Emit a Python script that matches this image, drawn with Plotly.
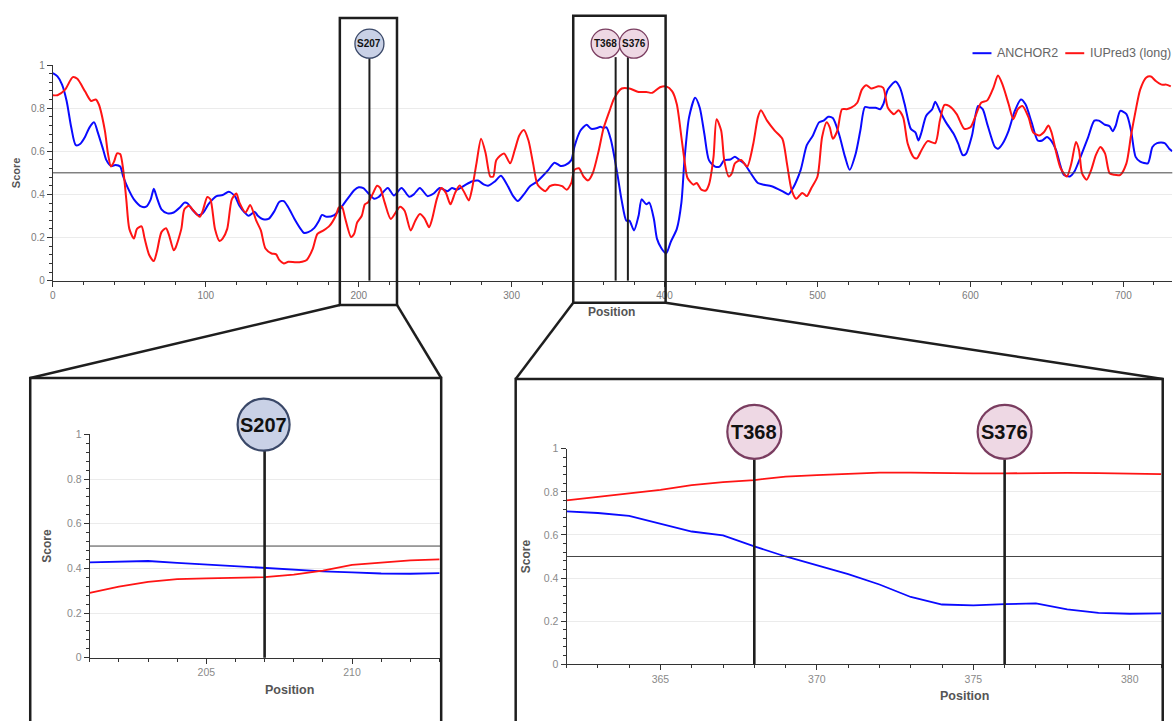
import plotly.graph_objects as go

W, H = 1174, 721
def fx(px):
    return px / W
def fy(py):
    return 1 - py / H

# ---------------- data ----------------
iupred_pos = [0, 3, 8, 13, 16, 21, 25, 28, 30, 34, 36, 38, 40, 42, 44, 46, 48, 50, 53, 55, 58, 60, 63, 66, 68, 71, 74, 76, 79, 80,
              84, 86, 89, 92, 96, 98, 101, 103, 106, 109, 111, 114, 117, 120, 122, 126, 129, 133, 136, 139, 143, 146, 148, 151, 154,
              159, 163, 166, 170, 173, 177, 181, 185, 187, 189, 191, 195, 197, 199, 202, 204, 206, 209, 212, 214, 217, 221, 227, 230,
              234, 237, 240, 243, 246, 248, 251, 254, 257, 260, 263, 266, 269, 272, 274, 277, 280, 283, 286, 288, 290, 295, 299, 302,
              305, 308, 311, 314, 317, 322, 325, 328, 333, 336, 339, 341, 344, 347, 350, 353, 357, 360, 364, 367, 372, 377, 383, 388,
              392, 397, 401, 405, 408, 411, 413, 415, 419, 421, 424, 427, 429, 432, 434, 437, 439, 442, 444, 446, 450, 454, 458, 461,
              463, 467, 472, 477, 480, 483, 486, 490, 493, 496, 500, 503, 506, 508, 510, 513, 516, 519, 522, 526, 529, 532, 535, 540,
              543, 546, 550, 553, 556, 559, 563, 565, 568, 572, 577, 580, 583, 586, 591, 596, 600, 603, 607, 611, 615, 618, 621, 625,
              628, 631, 634, 638, 641, 645, 648, 651, 653, 656, 659, 663, 666, 669, 671, 673, 676, 679, 682, 685, 688, 691, 694, 698,
              702, 705, 708, 711, 715, 718, 721, 725, 728, 731]
iupred_val = [0.86, 0.86, 0.886, 0.944, 0.936, 0.878, 0.833, 0.84, 0.818, 0.696, 0.59, 0.529, 0.552, 0.59, 0.587, 0.514, 0.377, 0.24,
              0.195, 0.24, 0.252, 0.195, 0.119, 0.091, 0.134, 0.225, 0.243, 0.21, 0.141, 0.149, 0.24, 0.331, 0.347, 0.324, 0.296,
              0.324, 0.388, 0.377, 0.24, 0.184, 0.195, 0.24, 0.377, 0.404, 0.362, 0.316, 0.351, 0.278, 0.233, 0.149, 0.126, 0.122,
              0.096, 0.08, 0.088, 0.085, 0.088, 0.096, 0.149, 0.217, 0.233, 0.255, 0.301, 0.339, 0.343, 0.293, 0.202, 0.217, 0.27,
              0.301, 0.354, 0.362, 0.40, 0.44, 0.43, 0.362, 0.286, 0.343, 0.324, 0.233, 0.278, 0.309, 0.289, 0.248, 0.286, 0.377,
              0.43, 0.407, 0.354, 0.407, 0.441, 0.41, 0.372, 0.422, 0.544, 0.658, 0.59, 0.483, 0.483, 0.559, 0.59, 0.544, 0.605,
              0.673, 0.699, 0.65, 0.544, 0.445, 0.415, 0.438, 0.445, 0.438, 0.422, 0.453, 0.514, 0.521, 0.483, 0.465, 0.498, 0.605,
              0.704, 0.787, 0.845, 0.891, 0.891, 0.875, 0.875, 0.871, 0.897, 0.901, 0.878, 0.818, 0.666, 0.559, 0.476, 0.445, 0.453,
              0.422, 0.418, 0.445, 0.574, 0.749, 0.696, 0.559, 0.483, 0.498, 0.544, 0.559, 0.529, 0.635, 0.757, 0.79, 0.742, 0.696,
              0.658, 0.544, 0.422, 0.38, 0.407, 0.392, 0.43, 0.483, 0.666, 0.734, 0.711, 0.658, 0.696, 0.795, 0.795, 0.802, 0.825,
              0.886, 0.906, 0.891, 0.901, 0.894, 0.802, 0.772, 0.79, 0.757, 0.635, 0.571, 0.567, 0.605, 0.647, 0.638, 0.742, 0.815,
              0.81, 0.772, 0.704, 0.711, 0.757, 0.825, 0.836, 0.894, 0.951, 0.909, 0.818, 0.749, 0.795, 0.81, 0.757, 0.688, 0.673,
              0.688, 0.719, 0.688, 0.597, 0.521, 0.483, 0.544, 0.643, 0.605, 0.498, 0.468, 0.514, 0.582, 0.62, 0.59, 0.498, 0.491,
              0.491, 0.544, 0.673, 0.787, 0.886, 0.942, 0.947, 0.927, 0.909, 0.909, 0.901]

anchor_pos = [0, 3, 6, 9, 12, 15, 18, 21, 24, 27, 29, 33, 35, 38, 41, 44, 46, 49, 53, 58, 61, 64, 66, 68, 71, 75, 79, 83, 86, 88, 91,
              95, 98, 102, 107, 111, 115, 119, 122, 125, 128, 132, 134, 137, 141, 145, 148, 151, 154, 158, 162, 164, 167, 171, 174,
              176, 179, 184, 187, 190, 194, 197, 200, 203, 205, 207, 210, 213, 219, 223, 228, 233, 236, 240, 245, 249, 253, 258, 261,
              264, 269, 274, 278, 282, 285, 289, 293, 297, 301, 304, 308, 312, 316, 320, 324, 328, 332, 335, 339, 341, 345, 349, 352,
              356, 358, 360, 362, 365, 369, 372, 375, 377, 380, 383, 385, 388, 390, 393, 395, 398, 401, 404, 408, 411, 413, 416, 420,
              423, 426, 429, 433, 436, 439, 443, 446, 449, 452, 457, 461, 465, 470, 477, 481, 484, 489, 493, 497, 501, 504, 507, 510,
              514, 518, 521, 525, 528, 531, 534, 538, 541, 543, 546, 551, 554, 557, 561, 564, 566, 568, 571, 575, 577, 580, 584, 589,
              592, 595, 597, 601, 605, 608, 611, 616, 618, 621, 625, 629, 633, 636, 640, 644, 647, 650, 653, 656, 659, 661, 665, 668,
              672, 677, 681, 684, 688, 691, 693, 695, 698, 702, 705, 708, 711, 716, 719, 722, 727, 730, 732]
anchor_val = [0.962, 0.947, 0.909, 0.833, 0.711, 0.628, 0.635, 0.666, 0.711, 0.734, 0.696, 0.605, 0.559, 0.532, 0.536, 0.529, 0.483,
              0.43, 0.377, 0.343, 0.343, 0.377, 0.426, 0.385, 0.331, 0.312, 0.316, 0.339, 0.362, 0.359, 0.331, 0.304, 0.313, 0.357,
              0.392, 0.397, 0.412, 0.392, 0.347, 0.319, 0.301, 0.319, 0.301, 0.286, 0.286, 0.324, 0.365, 0.369, 0.339, 0.286, 0.24,
              0.222, 0.225, 0.245, 0.278, 0.305, 0.296, 0.304, 0.324, 0.354, 0.392, 0.419, 0.433, 0.429, 0.415, 0.40, 0.38, 0.388,
              0.43, 0.395, 0.43, 0.389, 0.40, 0.43, 0.392, 0.404, 0.43, 0.415, 0.43, 0.422, 0.441, 0.46, 0.464, 0.445, 0.441, 0.46,
              0.486, 0.445, 0.392, 0.369, 0.40, 0.438, 0.456, 0.483, 0.514, 0.547, 0.532, 0.536, 0.559, 0.62, 0.696, 0.723, 0.704,
              0.708, 0.714, 0.708, 0.711, 0.65, 0.50, 0.37, 0.278, 0.278, 0.233, 0.301, 0.377, 0.354, 0.362, 0.286, 0.195, 0.149,
              0.126, 0.179, 0.24, 0.362, 0.559, 0.757, 0.848, 0.802, 0.681, 0.559, 0.529, 0.529, 0.559, 0.562, 0.574, 0.559, 0.544,
              0.491, 0.453, 0.445, 0.438, 0.415, 0.40, 0.43, 0.514, 0.628, 0.673, 0.734, 0.742, 0.76, 0.754, 0.681, 0.574, 0.514,
              0.59, 0.696, 0.805, 0.802, 0.802, 0.795, 0.818, 0.886, 0.924, 0.894, 0.818, 0.704, 0.688, 0.65, 0.688, 0.764, 0.795,
              0.83, 0.787, 0.734, 0.681, 0.635, 0.582, 0.587, 0.673, 0.81, 0.795, 0.726, 0.62, 0.612, 0.635, 0.696, 0.787, 0.84,
              0.818, 0.734, 0.65, 0.65, 0.666, 0.647, 0.605, 0.529, 0.491, 0.483, 0.506, 0.574, 0.666, 0.742, 0.742, 0.723, 0.716,
              0.693, 0.719, 0.787, 0.772, 0.696, 0.574, 0.552, 0.544, 0.62, 0.638, 0.638, 0.612, 0.60]

# zoomed windows (per residue)
zoom1_pos = list(range(201, 214))
zoom1_anchor = [0.427, 0.430, 0.433, 0.425, 0.417, 0.408, 0.400, 0.394, 0.387, 0.382, 0.377, 0.376, 0.379]
zoom1_iupred = [0.290, 0.318, 0.340, 0.352, 0.355, 0.357, 0.361, 0.372, 0.390, 0.416, 0.427, 0.436, 0.440]

zoom2_pos = list(range(362, 382))
zoom2_anchor = [0.709, 0.702, 0.689, 0.651, 0.616, 0.598, 0.547, 0.500, 0.460, 0.418, 0.370, 0.312, 0.277, 0.273, 0.279,
                0.282, 0.254, 0.238, 0.234, 0.236]
zoom2_iupred = [0.761, 0.776, 0.791, 0.809, 0.831, 0.845, 0.855, 0.871, 0.878, 0.882, 0.889, 0.889, 0.886, 0.886, 0.886,
                0.888, 0.888, 0.887, 0.884, 0.882]

threshold = 0.5
seq_length = 732
sites = ['S207', 'T368', 'S376']
site_pos = [207, 368, 376]
site_kind = ['S207', 'T', 'T']  # style group

BLUE = '#0a0aff'
RED = '#ff1414'
FONT = 'Liberation Sans'
DARK = '#1e1e1e'

STYLE = {
    'S207': dict(fill='#c9d1e6', line='#3a4868'),
    'T': dict(fill='#eed8e4', line='#7a3d60'),
}

fig = go.Figure()

# main
fig.add_trace(go.Scatter(x=anchor_pos, y=anchor_val, mode='lines', name='ANCHOR2', xaxis='x', yaxis='y',
                         line=dict(color=BLUE, width=2, shape='spline', smoothing=0.7), showlegend=False))
fig.add_trace(go.Scatter(x=iupred_pos, y=iupred_val, mode='lines', name='IUPred3 (long)', xaxis='x', yaxis='y',
                         line=dict(color=RED, width=2, shape='spline', smoothing=0.7), showlegend=False))
# inset 1
fig.add_trace(go.Scatter(x=zoom1_pos, y=zoom1_anchor, mode='lines', xaxis='x2', yaxis='y2',
                         line=dict(color=BLUE, width=1.8), showlegend=False))
fig.add_trace(go.Scatter(x=zoom1_pos, y=zoom1_iupred, mode='lines', xaxis='x2', yaxis='y2',
                         line=dict(color=RED, width=1.8), showlegend=False))
# inset 2
fig.add_trace(go.Scatter(x=zoom2_pos, y=zoom2_anchor, mode='lines', xaxis='x3', yaxis='y3',
                         line=dict(color=BLUE, width=1.8), showlegend=False))
fig.add_trace(go.Scatter(x=zoom2_pos, y=zoom2_iupred, mode='lines', xaxis='x3', yaxis='y3',
                         line=dict(color=RED, width=1.8), showlegend=False))

tickfont_main = dict(family=FONT, size=10, color='#7a7a7a')
tickfont_inset = dict(family=FONT, size=10.5, color='#8a8a8a')

def xax(domain, rng, dtick, minor, tickfont, anchor):
    return dict(domain=domain, range=rng, dtick=dtick, tick0=0, showline=True, linecolor='#333', linewidth=1,
                ticks='outside', ticklen=5, tickcolor='#333', tickfont=tickfont, showgrid=False, zeroline=False,
                minor=dict(dtick=minor, ticks='outside', ticklen=3, tickcolor='#333', showgrid=False),
                anchor=anchor, fixedrange=True)

def yax(domain, tickfont, anchor, title, tsize, standoff):
    return dict(domain=domain, range=[0, 1], dtick=0.2, tick0=0, showline=True, linecolor='#333', linewidth=1,
                ticks='outside', ticklen=5, tickcolor='#333', tickfont=tickfont, showgrid=True, gridcolor='#ebebeb',
                gridwidth=1, zeroline=False,
                minor=dict(dtick=0.04, ticks='outside', ticklen=3, tickcolor='#333', showgrid=False),
                anchor=anchor, fixedrange=True,
                title=dict(text='<b>%s</b>' % title, font=dict(family=FONT, size=tsize, color='#555'), standoff=standoff))

main_xd = [fx(50), fx(1172.3)]
main_yd = [fy(279.3), fy(60)]
in1_xd = [fx(87), fx(439.3)]
in1_yd = [fy(662.7), fy(435.7)]
in2_xd = [fx(565), fx(1162)]
in2_yd = [fy(669.3), fy(450.3)]

fig.update_layout(
    width=W, height=H, autosize=False,
    margin=dict(l=0, r=0, t=0, b=0),
    paper_bgcolor='white', plot_bgcolor='white',
    showlegend=False,
    xaxis=xax(main_xd, [0, seq_length], 100, 20, tickfont_main, 'y'),
    yaxis=yax(main_yd, tickfont_main, 'x', 'Score', 11, 8),
    xaxis2=xax(in1_xd, [201, 213.06], 5, 1, tickfont_inset, 'y2'),
    yaxis2=yax(in1_yd, tickfont_inset, 'x2', 'Score', 12, 12),
    xaxis3=xax(in2_xd, [362, 381.03], 5, 1, tickfont_inset, 'y3'),
    yaxis3=yax(in2_yd, tickfont_inset, 'x3', 'Score', 12, 10),
)

shapes = []
annotations = []

# threshold lines
for xr, yr in [('x', 'y'), ('x2', 'y2'), ('x3', 'y3')]:
    shapes.append(dict(type='line', xref=xr + ' domain', yref=yr, x0=0, x1=1, y0=threshold, y1=threshold,
                       line=dict(color='#444', width=1)))

# site markers: (xaxis ref, y-domain bottom, line top px, circle centre px, radius, font size, x offsets, line width)
panels = [
    dict(xr='x', ybot=main_yd[0], ltop=52, cy=38.3, r=14.5, fs=10, lw=2, bw=1.3,
         sites=[0, 1, 2], dx={0: 0, 1: -10, 2: 6}),
    dict(xr='x2', ybot=in1_yd[0], ltop=451, cy=425.7, r=26, fs=20, lw=2.6, bw=2.2,
         sites=[0], dx={0: -1}),
    dict(xr='x3', ybot=in2_yd[0], ltop=461, cy=433, r=27, fs=20, lw=2.6, bw=2.2,
         sites=[1, 2], dx={1: 0, 2: 0}),
]
for p in panels:
    for i in p['sites']:
        shapes.append(dict(type='line', xref=p['xr'], yref='paper', x0=site_pos[i], x1=site_pos[i],
                           y0=p['ybot'], y1=fy(p['ltop']), line=dict(color=DARK, width=p['lw'])))
    for i in p['sites']:
        st = STYLE[site_kind[i]]
        d = p['dx'][i]
        shapes.append(dict(type='circle', xref=p['xr'], yref='paper', xsizemode='pixel', ysizemode='pixel',
                           xanchor=site_pos[i], yanchor=fy(p['cy']), x0=d - p['r'], x1=d + p['r'],
                           y0=-p['r'], y1=p['r'], fillcolor=st['fill'], line=dict(color=st['line'], width=p['bw'])))
        annotations.append(dict(xref=p['xr'], yref='paper', x=site_pos[i], xshift=d, y=fy(p['cy']),
                                text='<b>%s</b>' % sites[i], showarrow=False, xanchor='center', yanchor='middle',
                                font=dict(family=FONT, size=p['fs'], color='#111')))

# zoom boxes and connectors (decoration, pixel positions)
BOX = dict(color=DARK, width=2.5)
shapes += [
    dict(type='rect', xref='paper', yref='paper', x0=fx(337.7), x1=fx(395), y0=fy(304), y1=fy(12.3), line=BOX),
    dict(type='rect', xref='paper', yref='paper', x0=fx(571.7), x1=fx(664.3), y0=fy(301.7), y1=fy(10), line=BOX),
    dict(type='rect', xref='paper', yref='paper', x0=fx(27.3), x1=fx(439.3), y0=fy(740), y1=fy(378.3), line=BOX),
    dict(type='rect', xref='paper', yref='paper', x0=fx(514), x1=fx(1162.7), y0=fy(740), y1=fy(379.3), line=BOX),
    dict(type='line', xref='paper', yref='paper', x0=fx(337.7), y0=fy(304), x1=fx(27.3), y1=fy(378.3), line=BOX),
    dict(type='line', xref='paper', yref='paper', x0=fx(395), y0=fy(304), x1=fx(439.3), y1=fy(378.3), line=BOX),
    dict(type='line', xref='paper', yref='paper', x0=fx(571.7), y0=fy(301.7), x1=fx(514), y1=fy(379.3), line=BOX),
    dict(type='line', xref='paper', yref='paper', x0=fx(664.3), y0=fy(301.7), x1=fx(1162.7), y1=fy(379.3), line=BOX),
]

# legend (manual)
shapes += [
    dict(type='line', xref='paper', yref='paper', x0=fx(972), x1=fx(991), y0=fy(48), y1=fy(48), line=dict(color=BLUE, width=2)),
    dict(type='line', xref='paper', yref='paper', x0=fx(1065), x1=fx(1084), y0=fy(48), y1=fy(48), line=dict(color=RED, width=2)),
]
annotations += [
    dict(xref='paper', yref='paper', x=fx(995), y=fy(48), text='ANCHOR2', showarrow=False, xanchor='left',
         yanchor='middle', font=dict(family=FONT, size=12.5, color='#666')),
    dict(xref='paper', yref='paper', x=fx(1088), y=fy(48), text='IUPred3 (long)', showarrow=False, xanchor='left',
         yanchor='middle', font=dict(family=FONT, size=12.5, color='#666')),
]

# x axis titles
annotations += [
    dict(xref='paper', yref='paper', x=fx(610), y=fy(311), text='<b>Position</b>', showarrow=False,
         xanchor='center', yanchor='middle', font=dict(family=FONT, size=12, color='#555')),
    dict(xref='paper', yref='paper', x=fx(287), y=fy(696), text='<b>Position</b>', showarrow=False,
         xanchor='center', yanchor='middle', font=dict(family=FONT, size=12.5, color='#555')),
    dict(xref='paper', yref='paper', x=fx(964), y=fy(702), text='<b>Position</b>', showarrow=False,
         xanchor='center', yanchor='middle', font=dict(family=FONT, size=12.5, color='#555')),
]

fig.update_layout(shapes=shapes, annotations=annotations)
fig.write_html('out.html')
